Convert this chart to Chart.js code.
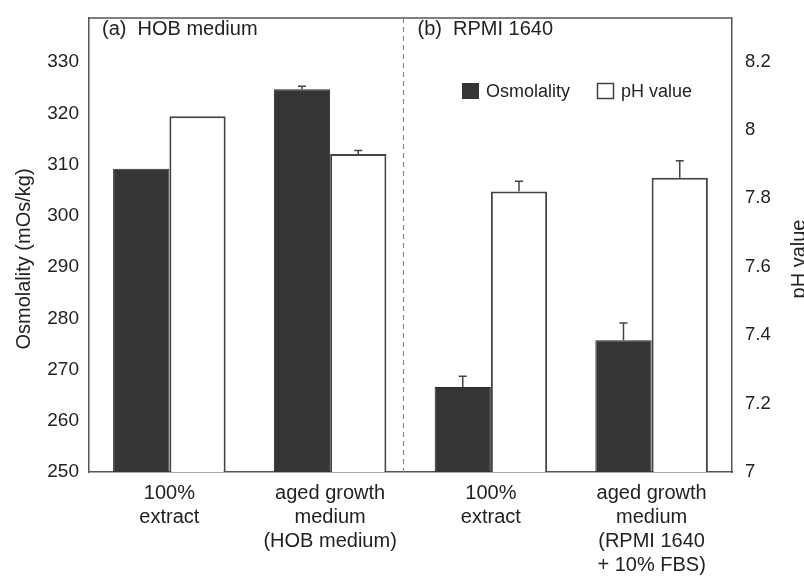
<!DOCTYPE html>
<html>
<head>
<meta charset="utf-8">
<script src="https://cdn.jsdelivr.net/npm/chart.js@4.4.1/dist/chart.umd.min.js"></script>
<style>
  html, body { margin: 0; padding: 0; background: #fff; }
  #wrap { width: 804px; height: 581px; }
</style>
</head>
<body>
<div id="wrap"><canvas id="chart" width="804" height="581"></canvas></div>
<script>
const categories = [
    ["100%", "extract"],
    ["aged growth", "medium", "(HOB medium)"],
    ["100%", "extract"],
    ["aged growth", "medium", "(RPMI 1640", "+ 10% FBS)"],
];
const osmolality = [309.2, 324.7, 266.6, 275.7];
const osmolalityErr = [0, 0.6, 2.1, 3.4];
const phValue = [8.04, 7.93, 7.82, 7.86];
const phErr = [0, 0.01, 0.03, 0.05];
const panelTitles = ["(a)  HOB medium", "(b)  RPMI 1640"];

const FONT = "'Liberation Sans', Arial, sans-serif";
const axisColor = "#555";

// error bars, box, divider, panel titles, legend and axis titles
const extras = {
    id: "extras",
    afterDatasetsDraw(chart) {
        const ctx = chart.ctx;
        const area = chart.chartArea;
        const errs = [osmolalityErr, phErr];
        const vals = [osmolality, phValue];

        ctx.save();
        ctx.strokeStyle = "#444";
        ctx.lineWidth = 1.5;
        [0, 1].forEach((d) => {
            const meta = chart.getDatasetMeta(d);
            const scale = chart.scales[meta.yAxisID];
            meta.data.forEach((bar, i) => {
                if (!errs[d][i]) return;
                const yTop = scale.getPixelForValue(vals[d][i] + errs[d][i]);
                ctx.beginPath();
                ctx.moveTo(bar.x, bar.y);
                ctx.lineTo(bar.x, yTop);
                ctx.moveTo(bar.x - 4, yTop);
                ctx.lineTo(bar.x + 4, yTop);
                ctx.stroke();
            });
        });

        // top border
        ctx.strokeStyle = axisColor;
        ctx.lineWidth = 1.5;
        ctx.beginPath();
        ctx.moveTo(area.left, area.top);
        ctx.lineTo(area.right, area.top);
        ctx.stroke();

        // dashed divider between the two panels
        const x = chart.scales.x;
        const midX = (x.getPixelForValue(1) + x.getPixelForValue(2)) / 2 - 7;
        ctx.strokeStyle = "#888";
        ctx.lineWidth = 1.2;
        ctx.setLineDash([5, 4]);
        ctx.beginPath();
        ctx.moveTo(midX, area.top);
        ctx.lineTo(midX, area.bottom);
        ctx.stroke();
        ctx.setLineDash([]);

        ctx.fillStyle = "#222";
        ctx.font = "20px " + FONT;
        ctx.textBaseline = "middle";
        ctx.textAlign = "left";
        ctx.fillText(panelTitles[0], area.left + 13, 29);
        ctx.fillText(panelTitles[1], midX + 14, 29);

        // legend
        const ds = chart.data.datasets;
        ctx.fillStyle = "#353535";
        ctx.fillRect(462, 83, 17, 16);
        ctx.strokeStyle = "#444";
        ctx.lineWidth = 1.5;
        ctx.strokeRect(597.5, 83.5, 16, 15);
        ctx.fillStyle = "#222";
        ctx.font = "18px " + FONT;
        ctx.fillText(ds[0].label, 486, 92);
        ctx.fillText(ds[1].label, 621, 92);

        // axis titles
        ctx.font = "20px " + FONT;
        ctx.textAlign = "center";
        ctx.save();
        ctx.translate(24, 259);
        ctx.rotate(-Math.PI / 2);
        ctx.fillText("Osmolality (mOs/kg)", 0, 0);
        ctx.restore();
        ctx.save();
        ctx.translate(799, 259);
        ctx.rotate(-Math.PI / 2);
        ctx.fillText("pH value", 0, 0);
        ctx.restore();
        ctx.restore();
    },
};

new Chart(document.getElementById("chart"), {
    type: "bar",
    data: {
        labels: categories,
        datasets: [
            {
                label: "Osmolality",
                data: osmolality,
                yAxisID: "y",
                backgroundColor: "#353535",
                borderColor: "#2a2a2a",
                borderWidth: 1,
            },
            {
                label: "pH value",
                data: phValue,
                yAxisID: "y2",
                backgroundColor: "#fff",
                borderColor: "#444",
                borderWidth: 2,
            },
        ],
    },
    options: {
        responsive: false,
        animation: false,
        layout: { padding: { top: 7, left: 0, right: 0, bottom: 0 } },
        categoryPercentage: 0.7,
        barPercentage: 1.0,
        plugins: {
            legend: { display: false },
            tooltip: { enabled: false },
        },
        scales: {
            x: {
                grid: { display: false, drawTicks: false },
                border: { color: axisColor, width: 1.5 },
                ticks: {
                    color: "#222",
                    font: { size: 20, family: FONT, lineHeight: 1.2 },
                    padding: 9,
                    maxRotation: 0,
                    autoSkip: false,
                },
                afterFit(s) { s.height = 109; },
            },
            y: {
                position: "left",
                min: 250,
                max: 338.6,
                afterBuildTicks(s) {
                    s.ticks = s.ticks.filter((t) => t.value <= 330);
                },
                grid: { display: false, drawTicks: true, tickLength: 8, tickColor: axisColor, tickWidth: 1.5 },
                border: { color: axisColor, width: 1.5 },
                ticks: {
                    stepSize: 10,
                    color: "#222",
                    font: { size: 19, family: FONT },
                    padding: 2,
                },
                afterFit(s) { s.width = 89; },
            },
            y2: {
                position: "right",
                min: 7,
                max: 8.327,
                afterBuildTicks(s) {
                    s.ticks = s.ticks.filter((t) => t.value <= 8.21);
                },
                grid: { display: false, drawOnChartArea: false, tickLength: 6, tickColor: axisColor, tickWidth: 1.5 },
                border: { color: axisColor, width: 1.5 },
                ticks: {
                    stepSize: 0.2,
                    color: "#222",
                    font: { size: 18.5, family: FONT },
                    padding: 7,
                    callback: (v) => Number(v.toFixed(1)).toString(),
                },
                afterFit(s) { s.width = 72; },
            },
        },
    },
    plugins: [extras],
});
</script>
</body>
</html>
